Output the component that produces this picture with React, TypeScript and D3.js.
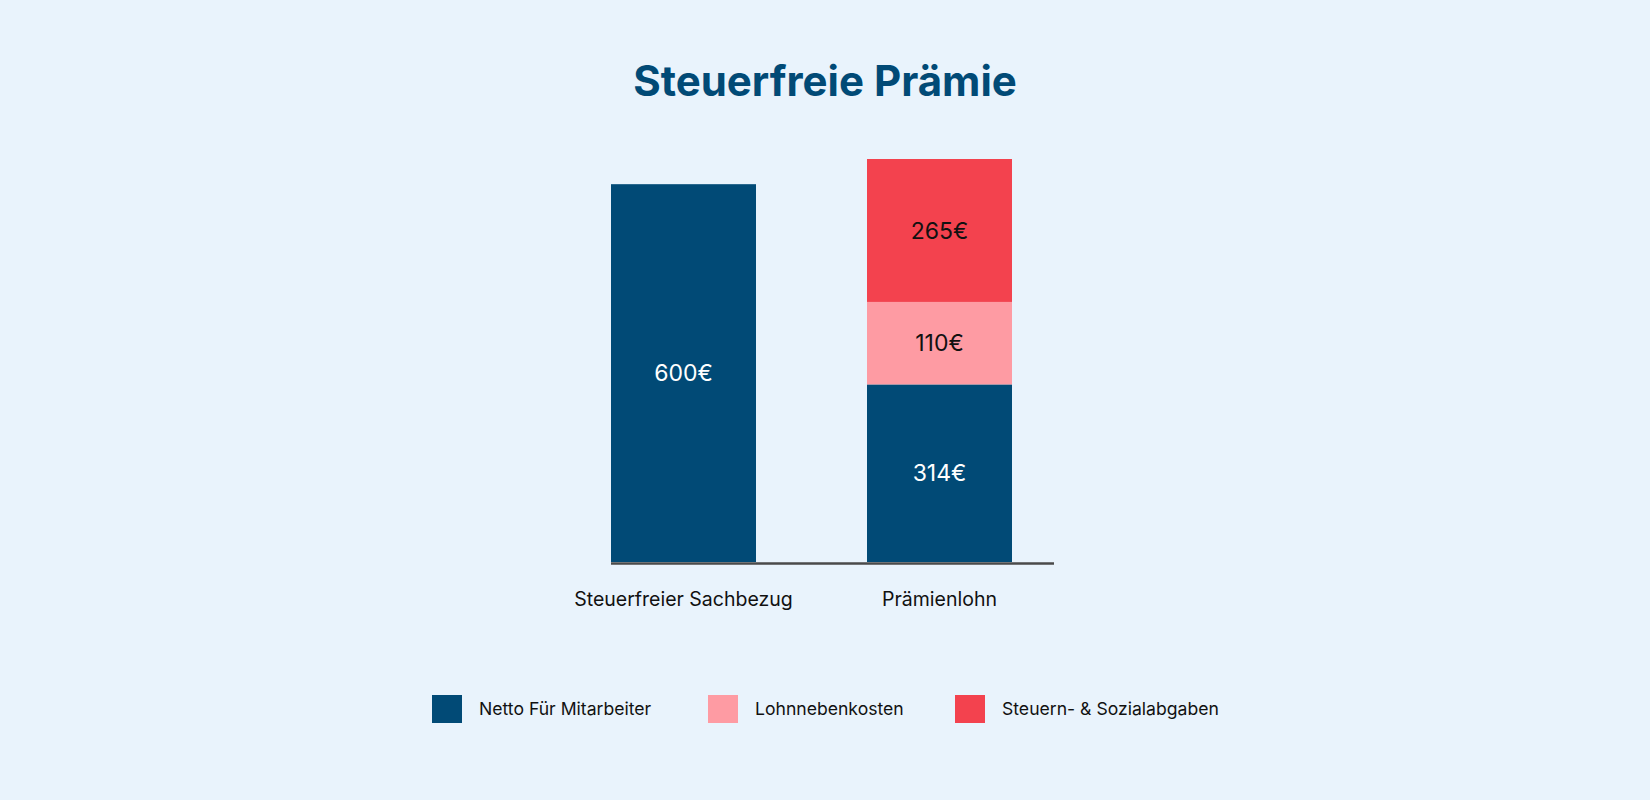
import React from "react";
import * as d3 from "d3";

// ---- data ----
const categories = ["Steuerfreier Sachbezug", "Prämienlohn"];
const seriesKeys = ["netto", "lohnneben", "steuern"];
const seriesNames = ["Netto Für Mitarbeiter", "Lohnnebenkosten", "Steuern- & Sozialabgaben"];
const seriesColors = ["#014a76", "#fe9ba3", "#f3424e"];
const labelColors = ["#ffffff", "#111111", "#111111"];
// bar heights as drawn in the picture (chart units)
const nettoValues = [600, 282];
const lohnnebenValues = [0, 131];
const steuernValues = [0, 227];
// value labels printed on the bars
const nettoLabels = ["600€", "314€"];
const lohnnebenLabels = ["", "110€"];
const steuernLabels = ["", "265€"];
const title = "Steuerfreie Prämie";

const W = 1650;
const H = 800;
const FONT = "Inter, 'DejaVu Sans', sans-serif";

export default function App() {
  const rows = categories.map((c, i) => ({
    cat: c,
    netto: nettoValues[i],
    lohnneben: lohnnebenValues[i],
    steuern: steuernValues[i],
  }));
  const labels: Record<string, string[]> = {
    netto: nettoLabels,
    lohnneben: lohnnebenLabels,
    steuern: steuernLabels,
  };
  const stack = d3.stack<any>().keys(seriesKeys);
  const layers = stack(rows);

  const x = d3.scalePoint<string>().domain(categories).range([683.5, 939.5]);
  const barW = 145;
  const y = d3.scaleLinear().domain([0, 640]).range([562, 159]);

  const legendX = [432, 708, 955];

  return (
    <div style={{ position: "fixed", left: 0, top: 0, width: W, height: H }}>
      <svg width={W} height={H} style={{ display: "block" }}>
        <rect x={0} y={0} width={W} height={H} fill="#e9f3fc" />
        <text
          x={W / 2}
          y={96}
          textAnchor="middle"
          fontFamily={FONT}
          fontWeight={700}
          fontSize={42}
          fill="#014a76"
        >
          {title}
        </text>

        {layers.map((layer, li) => (
          <g key={layer.key}>
            {layer.map((d, i) => {
              const h = y(d[0]) - y(d[1]);
              if (h <= 0) return null;
              return (
                <rect
                  key={i}
                  x={(x(categories[i]) as number) - barW / 2}
                  y={y(d[1])}
                  width={barW}
                  height={h}
                  fill={seriesColors[li]}
                />
              );
            })}
          </g>
        ))}

        <line x1={611} x2={1054} y1={563.5} y2={563.5} stroke="#4a4a4a" strokeWidth={2.5} />

        {layers.map((layer, li) => (
          <g key={"l" + layer.key}>
            {layer.map((d, i) => {
              const txt = labels[layer.key as string][i];
              if (!txt) return null;
              const cy = (y(d[0]) + y(d[1])) / 2;
              return (
                <text
                  key={i}
                  x={x(categories[i]) as number}
                  y={cy}
                  dy="0.35em"
                  textAnchor="middle"
                  fontFamily={FONT}
                  fontSize={23}
                  fontWeight={400}
                  fill={labelColors[li]}
                >
                  {txt}
                </text>
              );
            })}
          </g>
        ))}

        {categories.map((c) => (
          <text
            key={c}
            x={x(c) as number}
            y={606}
            textAnchor="middle"
            fontFamily={FONT}
            fontSize={19.5}
            fill="#111111"
          >
            {c}
          </text>
        ))}

        {seriesNames.map((n, i) => (
          <g key={n} transform={`translate(${legendX[i]},695)`}>
            <rect width={30} height={28} fill={seriesColors[i]} />
            <text x={47} y={19.5} fontFamily={FONT} fontSize={17.6} fill="#111111">
              {n}
            </text>
          </g>
        ))}
      </svg>
    </div>
  );
}
